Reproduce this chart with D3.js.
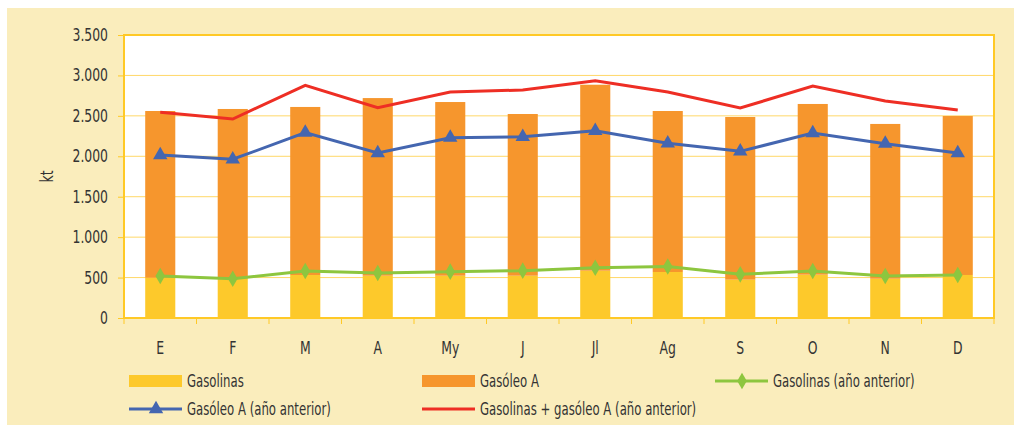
<!DOCTYPE html>
<html>
<head>
<meta charset="utf-8">
<script src="https://cdn.jsdelivr.net/npm/d3@7"></script>
<style>
  body { margin: 0; background: #fff; }
  text { font-family: "DejaVu Sans", sans-serif; fill: #333; }
</style>
</head>
<body>
<div id="top_div"></div>
<script>
var months = ['E', 'F', 'M', 'A', 'My', 'J', 'Jl', 'Ag', 'S', 'O', 'N', 'D'];
var gasolinas = [498, 486, 532, 523, 523, 523, 585, 569, 474, 536, 486, 532];
var totales = [2560, 2585, 2610, 2720, 2671, 2523, 2885, 2560, 2486, 2647, 2400, 2498];
var gasoleoA = totales.map((t, i) => t - gasolinas[i]);
var gasolinasPrev = [519, 486, 581, 556, 573, 585, 622, 637, 540, 581, 519, 532];
var gasoleoPrev = [2016, 1963, 2292, 2041, 2230, 2242, 2316, 2160, 2061, 2288, 2156, 2041];
var sumaPrev = [2544, 2461, 2878, 2601, 2795, 2820, 2935, 2795, 2597, 2869, 2684, 2572];
var yTicks = [0, 500, 1000, 1500, 2000, 2500, 3000, 3500];

var W = 1014, H = 425;
var mLeft = 124, mRight = 994, mTop = 35, mBottom = 318;
var fs = 17, sx = 0.73, sxL = 0.69;   // narrow look of the original font
var cYellow = '#FDC92B', cOrange = '#F6962D', cGreen = '#8DC63F', cBlue = '#4466B0', cRed = '#EE2E24';
var cBorder = '#FFC926', cGrid = '#FFD868';

var svg = d3.select('#top_div')
  .append('svg')
    .attr('width', W)
    .attr('height', H);

svg.append('rect')
  .attr('x', 7).attr('y', 8)
  .attr('width', W - 7).attr('height', H - 8)
  .attr('fill', '#FAEDBC');

svg.append('rect')
  .attr('x', mLeft).attr('y', mTop)
  .attr('width', mRight - mLeft).attr('height', mBottom - mTop)
  .attr('fill', '#fff');

var x = d3.scaleBand().domain(months).range([mLeft, mRight]).paddingInner(0.585).paddingOuter(0.2925);
var xc = d3.scaleBand().domain(months).range([mLeft, mRight]);
var y = d3.scaleLinear().domain([0, 3500]).range([mBottom, mTop]);
var fmt = d3.formatLocale({ decimal: ',', thousands: '.', grouping: [3], currency: ['', '€'] }).format(',d');

// gridlines
svg.append('g')
  .selectAll('line')
  .data(yTicks.slice(1, -1))
  .enter().append('line')
    .attr('x1', mLeft).attr('x2', mRight)
    .attr('y1', d => y(d)).attr('y2', d => y(d))
    .attr('stroke', cGrid)
    .attr('stroke-width', 1);

// stacked bars
var bars = svg.append('g');
bars.selectAll('rect.gas')
  .data(months)
  .enter().append('rect')
    .attr('class', 'gas')
    .attr('x', d => x(d))
    .attr('width', x.bandwidth())
    .attr('y', (d, i) => y(gasolinas[i]))
    .attr('height', (d, i) => y(0) - y(gasolinas[i]))
    .attr('fill', cYellow);
bars.selectAll('rect.gasoleo')
  .data(months)
  .enter().append('rect')
    .attr('class', 'gasoleo')
    .attr('x', d => x(d))
    .attr('width', x.bandwidth())
    .attr('y', (d, i) => y(gasolinas[i] + gasoleoA[i]))
    .attr('height', (d, i) => y(gasolinas[i]) - y(gasolinas[i] + gasoleoA[i]))
    .attr('fill', cOrange);

// plot border
svg.append('rect')
  .attr('x', mLeft).attr('y', mTop)
  .attr('width', mRight - mLeft).attr('height', mBottom - mTop)
  .attr('fill', 'none')
  .attr('stroke', cBorder)
  .attr('stroke-width', 2);

// y axis
var yAxis = svg.append('g')
  .attr('transform', 'translate(' + mLeft + ',0)')
  .call(d3.axisLeft(y).tickValues(yTicks).tickFormat(fmt).tickSize(6));
yAxis.select('.domain').remove();
yAxis.selectAll('line').attr('stroke', cBorder);
yAxis.selectAll('text')
  .attr('x', -16 / sx)
  .attr('transform', 'scale(' + sx + ',1)')
  .attr('font-size', fs).style('fill', '#333');

// x axis
var xAxis = svg.append('g')
  .attr('transform', 'translate(0,' + mBottom + ')')
  .call(d3.axisBottom(xc).tickSize(0).tickPadding(24));
xAxis.select('.domain').remove();
xAxis.selectAll('text')
  .attr('transform', 'scale(' + sx + ',1)')
  .attr('font-size', fs).style('fill', '#333');
svg.append('g')
  .selectAll('line')
  .data(months.concat(['end']))
  .enter().append('line')
    .attr('x1', (d, i) => mLeft + i * xc.step()).attr('x2', (d, i) => mLeft + i * xc.step())
    .attr('y1', mBottom).attr('y2', mBottom + 6)
    .attr('stroke', cBorder)
    .attr('stroke-width', 1);

svg.append('text')
  .attr('transform', 'translate(53,' + ((mTop + mBottom) / 2) + ') rotate(-90) scale(' + sx + ',1)')
  .attr('text-anchor', 'middle')
  .attr('font-size', fs)
  .text('kt');

// lines
var cx = d => xc(d) + xc.bandwidth() / 2;
function drawLine(vals, color) {
  var line = d3.line().x((d, i) => cx(months[i])).y(d => y(d));
  svg.append('path')
    .datum(vals)
    .attr('d', line)
    .attr('fill', 'none')
    .attr('stroke', color)
    .attr('stroke-width', 3);
}
drawLine(sumaPrev, cRed);
drawLine(gasoleoPrev, cBlue);
drawLine(gasolinasPrev, cGreen);

var tri = d3.symbol().type(d3.symbolTriangle).size(90);
var dia = d3.symbol().type(d3.symbolDiamond).size(80);
svg.append('g')
  .selectAll('path')
  .data(gasoleoPrev)
  .enter().append('path')
    .attr('d', tri)
    .attr('transform', (d, i) => 'translate(' + cx(months[i]) + ',' + y(d) + ')')
    .attr('fill', cBlue);
svg.append('g')
  .selectAll('path')
  .data(gasolinasPrev)
  .enter().append('path')
    .attr('d', dia)
    .attr('transform', (d, i) => 'translate(' + cx(months[i]) + ',' + y(d) + ')')
    .attr('fill', cGreen);

// legend
var legend = [
  { name: 'Gasolinas', type: 'bar', color: cYellow, x: 129, y: 381 },
  { name: 'Gasóleo A', type: 'bar', color: cOrange, x: 422, y: 381 },
  { name: 'Gasolinas (año anterior)', type: 'line', color: cGreen, sym: dia, x: 715, y: 381 },
  { name: 'Gasóleo A (año anterior)', type: 'line', color: cBlue, sym: tri, x: 129, y: 409 },
  { name: 'Gasolinas + gasóleo A (año anterior)', type: 'line', color: cRed, x: 422, y: 409 }
];
var lg = svg.append('g').selectAll('g').data(legend).enter().append('g')
  .attr('transform', d => 'translate(' + d.x + ',' + d.y + ')');
lg.filter(d => d.type === 'bar').append('rect')
  .attr('x', 0).attr('y', -6).attr('width', 53).attr('height', 12)
  .attr('fill', d => d.color);
lg.filter(d => d.type === 'line').append('line')
  .attr('x1', 0).attr('x2', 53).attr('y1', 0).attr('y2', 0)
  .attr('stroke', d => d.color).attr('stroke-width', 3);
lg.filter(d => d.sym).append('path')
  .attr('d', d => d.sym())
  .attr('transform', 'translate(27,0)')
  .attr('fill', d => d.color);
lg.append('text')
  .attr('transform', 'translate(58,0) scale(' + sxL + ',1)')
  .attr('dy', '0.35em')
  .attr('font-size', fs)
  .text(d => d.name);
</script>
</body>
</html>
